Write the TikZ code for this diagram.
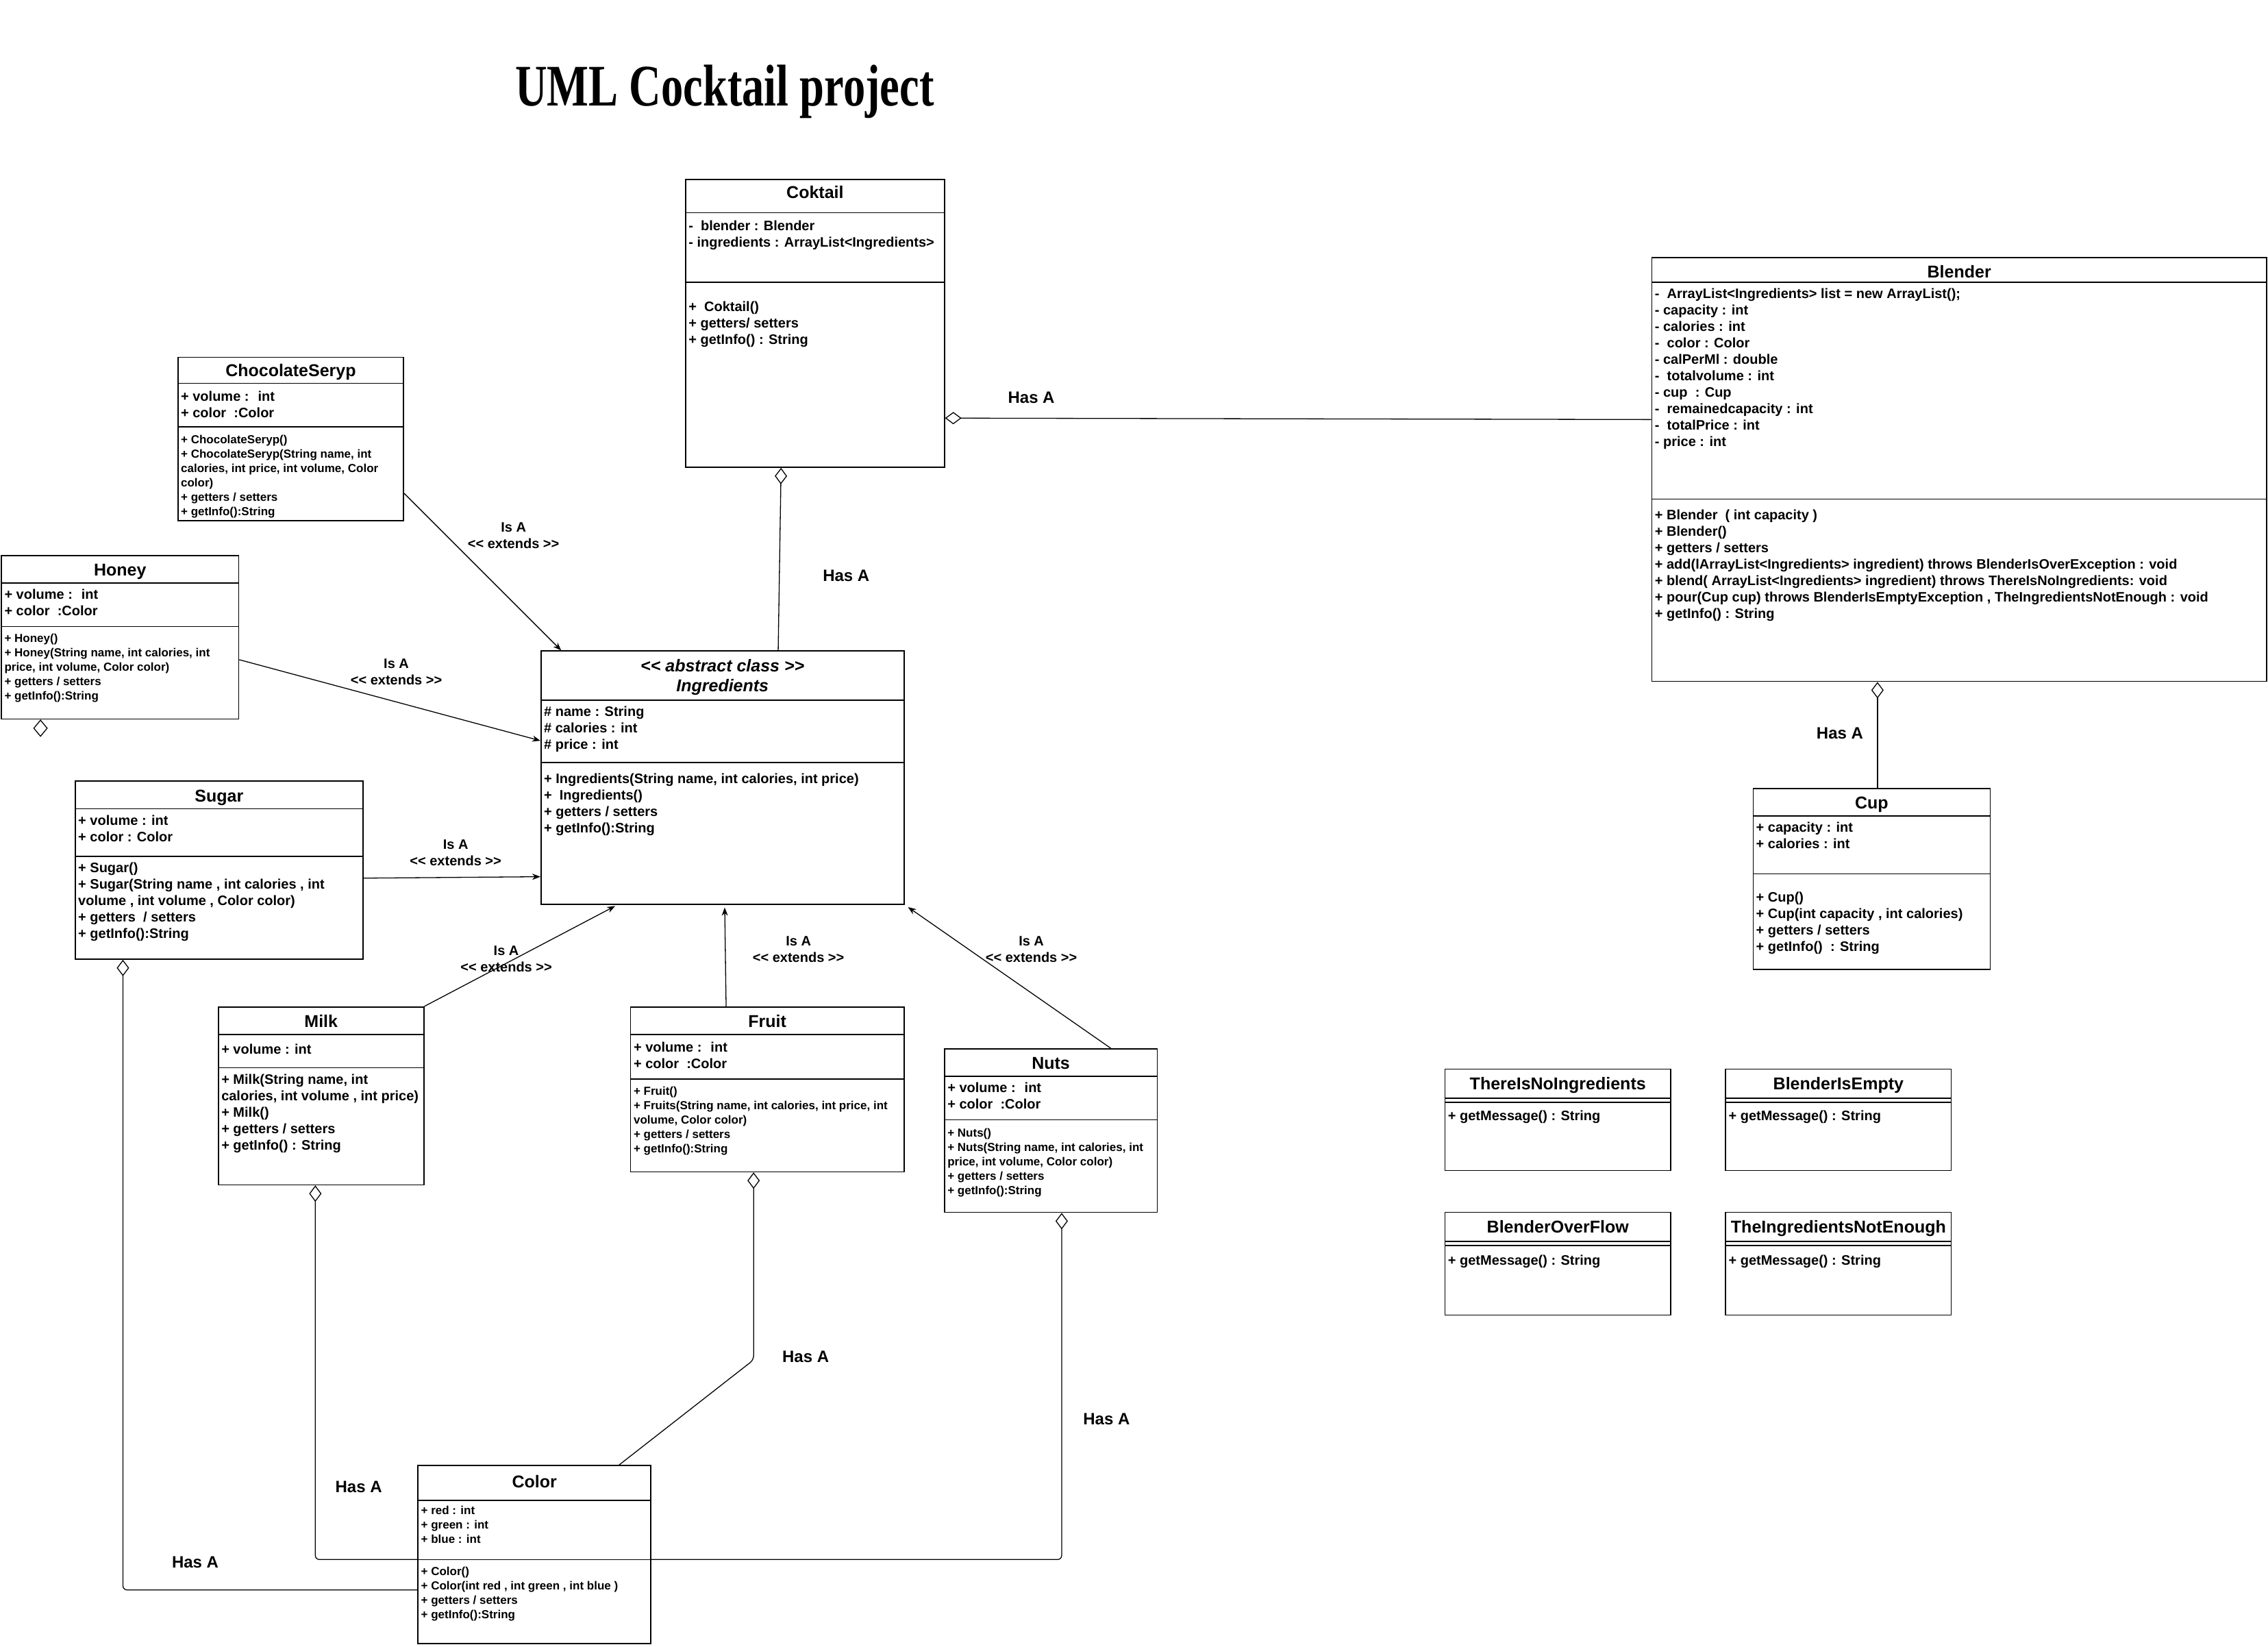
\documentclass[tikz,border=0pt]{standalone}
\usepackage{fontspec}
\newfontfamily\umlfont{Liberation Sans}
\newfontfamily\titlefont[FakeStretch=0.75]{Liberation Serif}
\usetikzlibrary{arrows.meta,fit,shapes.geometric}

\tikzset{
  classbox/.style={draw, line width=1.6pt, inner sep=0pt},
  classline/.style={line width=1.6pt},
  classname/.style={anchor=base, inner sep=0pt, font=\umlfont\bfseries\fontsize{25}{29}\selectfont},
  members/.style={anchor=north west, inner sep=0pt, xshift=5pt, yshift=-2pt, align=left,
    execute at begin node=\strut, font=\umlfont\bfseries\fontsize{20}{24}\selectfont},
  smallmembers/.style={members, font=\umlfont\bfseries\fontsize{17}{21}\selectfont},
  relname/.style={align=center, inner sep=0pt, font=\umlfont\bfseries\fontsize{20}{24}\selectfont},
  hasname/.style={inner sep=0pt, font=\umlfont\bfseries\fontsize{24}{28}\selectfont},
  isa/.style={-{Stealth[length=12pt,width=9pt]}, line width=1.3pt},
  hasa/.style={{Diamond[open,length=24pt,width=18pt]}-, line width=1.3pt, rounded corners=6pt},
}

\begin{document}
\begin{tikzpicture}[x=2.1116pt, y=-2.1116pt]

  \fill[white] (0,0) rectangle (1568,1138);
  \useasboundingbox (0,0) rectangle (1568,1138);

  \node[anchor=base, inner sep=0pt, font=\titlefont\bfseries\fontsize{86}{90}\selectfont] (title) at (501,73) {UML Cocktail project};

  % Coktail
  \node[classbox, fit={(474,124) (653,323)}] (coktail) {};
  \draw[classline] (coktail.west |- 0,147) -- (coktail.east |- 0,147);
  \draw[classline] (coktail.west |- 0,195) -- (coktail.east |- 0,195);
  \node[classname] (coktailname) at (coktail |- 0,137.2) {Coktail};
  \node[members] (coktailattrs) at (coktail.west |- 0,151.4) {-~ blender : Blender\\- ingredients : ArrayList<Ingredients>};
  \node[members] (coktailops) at (coktail.west |- 0,207.4) {+~ Coktail()\\+ getters/ setters\\+ getInfo() : String};

  % Blender
  \node[classbox, fit={(1142,178) (1567,471)}] (blender) {};
  \draw[classline] (blender.west |- 0,195) -- (blender.east |- 0,195);
  \draw[classline] (blender.west |- 0,345) -- (blender.east |- 0,345);
  \node[classname] (blendername) at (blender |- 0,192.2) {Blender};
  \node[members] (blenderattrs) at (blender.west |- 0,198.4) {-~ ArrayList<Ingredients> list = new ArrayList();\\- capacity : int\\- calories : int\\-~ color : Color\\- calPerMl : double\\-~ totalvolume : int\\- cup~ : Cup\\-~ remainedcapacity : int\\-~ totalPrice : int\\- price : int};
  \node[members] (blenderops) at (blender.west |- 0,351.4) {+ Blender~ ( int capacity )\\+ Blender()\\+ getters / setters\\+ add(lArrayList<Ingredients> ingredient) throws BlenderIsOverException : void\\+ blend( ArrayList<Ingredients> ingredient) throws ThereIsNoIngredients: void\\+ pour(Cup cup) throws BlenderIsEmptyException , TheIngredientsNotEnough : void\\+ getInfo() : String};

  % ChocolateSeryp
  \node[classbox, fit={(123,247) (279,360)}] (choco) {};
  \draw[classline] (choco.west |- 0,265) -- (choco.east |- 0,265);
  \draw[classline] (choco.west |- 0,295) -- (choco.east |- 0,295);
  \node[classname] (choconame) at (choco |- 0,260.2) {ChocolateSeryp};
  \node[members] (chocoattrs) at (choco.west |- 0,269.4) {+ volume :~ int\\+ color~ :Color};
  \node[smallmembers] (chocoops) at (choco.west |- 0,299.9) {+ ChocolateSeryp()\\+ ChocolateSeryp(String name, int\\calories, int price, int volume, Color\\color)\\+ getters / setters\\+ getInfo():String};

  % Honey
  \node[classbox, fit={(1,384) (165,497)}] (honey) {};
  \draw[classline] (honey.west |- 0,403) -- (honey.east |- 0,403);
  \draw[classline] (honey.west |- 0,433) -- (honey.east |- 0,433);
  \node[classname] (honeyname) at (honey |- 0,398.2) {Honey};
  \node[members] (honeyattrs) at (honey.west |- 0,406.4) {+ volume :~ int\\+ color~ :Color};
  \node[smallmembers] (honeyops) at (honey.west |- 0,436.9) {+ Honey()\\+ Honey(String name, int calories, int\\price, int volume, Color color)\\+ getters / setters\\+ getInfo():String};
  \node[draw, diamond, inner sep=0pt, minimum width=20pt, minimum height=24pt, line width=1.3pt, anchor=north] (honeyagg) at (honey.south -| 28,0) {};

  % Ingredients
  \node[classbox, fit={(374,450) (625,625)}] (ingr) {};
  \draw[classline] (ingr.west |- 0,484) -- (ingr.east |- 0,484);
  \draw[classline] (ingr.west |- 0,527) -- (ingr.east |- 0,527);
  \node[classname, font=\umlfont\bfseries\itshape\fontsize{25}{29}\selectfont] (ingrstereo) at (ingr |- 0,464.2) {<< abstract class >>};
  \node[classname, font=\umlfont\bfseries\itshape\fontsize{25}{29}\selectfont] (ingrname) at (ingr |- 0,478.2) {Ingredients};
  \node[members] (ingrattrs) at (ingr.west |- 0,487.4) {\# name : String\\\# calories : int\\\# price : int};
  \node[members] (ingrops) at (ingr.west |- 0,533.4) {+ Ingredients(String name, int calories, int price)\\+~ Ingredients()\\+ getters / setters\\+ getInfo():String};

  % Sugar
  \node[classbox, fit={(52,540) (251,663)}] (sugar) {};
  \draw[classline] (sugar.west |- 0,559) -- (sugar.east |- 0,559);
  \draw[classline] (sugar.west |- 0,592) -- (sugar.east |- 0,592);
  \node[classname] (sugarname) at (sugar |- 0,554.2) {Sugar};
  \node[members] (sugarattrs) at (sugar.west |- 0,562.4) {+ volume : int\\+ color : Color};
  \node[members] (sugarops) at (sugar.west |- 0,595.4) {+ Sugar()\\+ Sugar(String name , int calories , int\\volume , int volume , Color color)\\+ getters~ / setters\\+ getInfo():String};

  % Milk
  \node[classbox, fit={(151,696) (293,819)}] (milk) {};
  \draw[classline] (milk.west |- 0,715) -- (milk.east |- 0,715);
  \draw[classline] (milk.west |- 0,738) -- (milk.east |- 0,738);
  \node[classname] (milkname) at (milk |- 0,710.2) {Milk};
  \node[members] (milkattrs) at (milk.west |- 0,719.4) {+ volume : int};
  \node[members] (milkops) at (milk.west |- 0,741.4) {+ Milk(String name, int\\calories, int volume , int price)\\+ Milk()\\+ getters / setters\\+ getInfo() : String};

  % Fruit
  \node[classbox, fit={(436,696) (625,810)}] (fruit) {};
  \draw[classline] (fruit.west |- 0,715) -- (fruit.east |- 0,715);
  \draw[classline] (fruit.west |- 0,746) -- (fruit.east |- 0,746);
  \node[classname] (fruitname) at (fruit |- 0,710.2) {Fruit};
  \node[members] (fruitattrs) at (fruit.west |- 0,719.4) {+ volume :~ int\\+ color~ :Color};
  \node[smallmembers] (fruitops) at (fruit.west |- 0,749.9) {+ Fruit()\\+ Fruits(String name, int calories, int price, int\\volume, Color color)\\+ getters / setters\\+ getInfo():String};

  % Nuts
  \node[classbox, fit={(653,725) (800,838)}] (nuts) {};
  \draw[classline] (nuts.west |- 0,744) -- (nuts.east |- 0,744);
  \draw[classline] (nuts.west |- 0,774) -- (nuts.east |- 0,774);
  \node[classname] (nutsname) at (nuts |- 0,739.2) {Nuts};
  \node[members] (nutsattrs) at (nuts.west |- 0,747.4) {+ volume :~ int\\+ color~ :Color};
  \node[smallmembers] (nutsops) at (nuts.west |- 0,778.9) {+ Nuts()\\+ Nuts(String name, int calories, int\\price, int volume, Color color)\\+ getters / setters\\+ getInfo():String};

  % Color
  \node[classbox, fit={(289,1013) (450,1136)}] (color) {};
  \draw[classline] (color.west |- 0,1037) -- (color.east |- 0,1037);
  \draw[classline] (color.west |- 0,1078) -- (color.east |- 0,1078);
  \node[classname] (colorname) at (color |- 0,1028.2) {Color};
  \node[smallmembers] (colorattrs) at (color.west |- 0,1039.9) {+ red : int\\+ green : int\\+ blue : int};
  \node[smallmembers] (colorops) at (color.west |- 0,1081.9) {+ Color()\\+ Color(int red , int green , int blue )\\+ getters / setters\\+ getInfo():String};

  % Cup
  \node[classbox, fit={(1212,545) (1376,670)}] (cup) {};
  \draw[classline] (cup.west |- 0,564) -- (cup.east |- 0,564);
  \draw[classline] (cup.west |- 0,604) -- (cup.east |- 0,604);
  \node[classname] (cupname) at (cup |- 0,559.2) {Cup};
  \node[members] (cupattrs) at (cup.west |- 0,567.4) {+ capacity : int\\+ calories : int};
  \node[members] (cupops) at (cup.west |- 0,615.4) {+ Cup()\\+ Cup(int capacity , int calories)\\+ getters / setters\\+ getInfo()~ : String};

  % exceptions
  \node[classbox, fit={(999,739) (1155,809)}] (noingr) {};
  \draw[classline] (noingr.west |- 0,759) -- (noingr.east |- 0,759);
  \draw[classline] (noingr.west |- 0,762) -- (noingr.east |- 0,762);
  \node[classname] (noingrname) at (noingr |- 0,753.2) {ThereIsNoIngredients};
  \node[members] (noingrops) at (noingr.west |- 0,765.4) {+ getMessage() : String};

  \node[classbox, fit={(1193,739) (1349,809)}] (isempty) {};
  \draw[classline] (isempty.west |- 0,759) -- (isempty.east |- 0,759);
  \draw[classline] (isempty.west |- 0,762) -- (isempty.east |- 0,762);
  \node[classname] (isemptyname) at (isempty |- 0,753.2) {BlenderIsEmpty};
  \node[members] (isemptyops) at (isempty.west |- 0,765.4) {+ getMessage() : String};

  \node[classbox, fit={(999,838) (1155,909)}] (overflow) {};
  \draw[classline] (overflow.west |- 0,858) -- (overflow.east |- 0,858);
  \draw[classline] (overflow.west |- 0,861) -- (overflow.east |- 0,861);
  \node[classname] (overflowname) at (overflow |- 0,852.2) {BlenderOverFlow};
  \node[members] (overflowops) at (overflow.west |- 0,865.4) {+ getMessage() : String};

  \node[classbox, fit={(1193,838) (1349,909)}] (notenough) {};
  \draw[classline] (notenough.west |- 0,858) -- (notenough.east |- 0,858);
  \draw[classline] (notenough.west |- 0,861) -- (notenough.east |- 0,861);
  \node[classname] (notenoughname) at (notenough |- 0,852.2) {TheIngredientsNotEnough};
  \node[members] (notenoughops) at (notenough.west |- 0,865.4) {+ getMessage() : String};

  % inheritance
  \draw[isa] (choco.east |- 0,341) -- (ingr.north -| 388,0);
  \draw[isa] (honey.east |- 0,456) -- (ingr.west |- 0,512);
  \draw[isa] (sugar.east |- 0,607) -- (ingr.west |- 0,606);
  \draw[isa, shorten >=4pt] (milk.north east) -- (ingr.south -| 427,0);
  \draw[isa, shorten >=4pt] (fruit.north -| 502,0) -- (ingr.south -| 501,0);
  \draw[isa, shorten >=6pt] (nuts.north -| 768,0) -- (ingr.south east);

  \node[relname] (isachoco) at (355,370) {Is A\\<< extends >>};
  \node[relname] (isahoney) at (274,464.5) {Is A\\<< extends >>};
  \node[relname] (isasugar) at (315,589.5) {Is A\\<< extends >>};
  \node[relname] (isamilk) at (350,663) {Is A\\<< extends >>};
  \node[relname] (isafruit) at (552,656) {Is A\\<< extends >>};
  \node[relname] (isanuts) at (713,656) {Is A\\<< extends >>};

  % aggregation
  \draw[hasa] (coktail.east |- 0,289) -- (blender.west |- 0,290);
  \draw[hasa] (coktail.south -| 540,0) -- (ingr.north -| 538,0);
  \draw[hasa] (blender.south -| 1298,0) -- (cup.north -| 1298,0);
  \coordinate (fruitbend) at (521,940);
  \draw[hasa] (sugar.south -| 85,0) |- (color.west |- 0,1099);
  \draw[hasa] (milk.south -| 218,0) |- (color.west |- 0,1078);
  \draw[hasa] (fruit.south -| 521,0) -- (fruitbend) -- (color.north -| 428,0);
  \draw[hasa] (nuts.south -| 734,0) |- (color.east |- 0,1078);

  \node[hasname] (hasblender) at (713,275) {Has A};
  \node[hasname] (hasingr) at (585,398) {Has A};
  \node[hasname] (hascup) at (1272,507) {Has A};
  \node[hasname] (hasfruit) at (557,938) {Has A};
  \node[hasname] (hasnuts) at (765,981) {Has A};
  \node[hasname] (hasmilk) at (248,1028) {Has A};
  \node[hasname] (hassugar) at (135,1080) {Has A};

\end{tikzpicture}
\end{document}
